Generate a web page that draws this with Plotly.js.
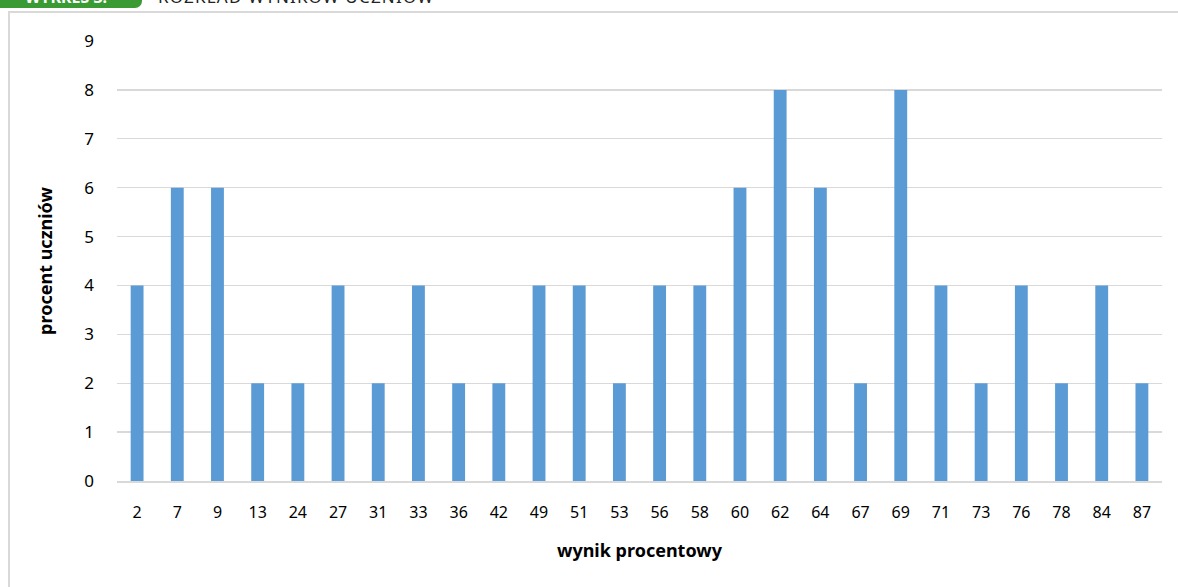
<!DOCTYPE html>
<html><head><meta charset="utf-8">
<script src="https://cdn.plot.ly/plotly-3.0.1.min.js"></script>
<style>
html,body{margin:0;padding:0;background:#fff;overflow:hidden;}
#wrap{position:relative;width:1178px;height:587px;}
#frame{position:absolute;left:8px;top:11px;width:1200px;height:620px;border:2px solid #D9D9D9;box-sizing:border-box;}
#badge{position:absolute;left:-10px;top:-14px;width:152px;height:22px;background:#3A9B35;border-radius:7px;color:#fff;font:bold 16px "Noto Sans";line-height:22px;text-align:center;}
#head{position:absolute;left:158px;top:-13px;font:17px "Noto Sans";color:#222;line-height:20px;letter-spacing:1.2px;}
#chart{position:absolute;left:0;top:0;width:1178px;height:587px;}
</style></head>
<body><div id="wrap">
<div id="frame"></div>
<div id="badge">WYKRES 3.</div>
<div id="head">ROZKŁAD WYNIKÓW UCZNIÓW</div>
<div id="chart"></div>
</div>
<script>
const categories = ["2","7","9","13","24","27","31","33","36","42","49","51","53","56","58","60","62","64","67","69","71","73","76","78","84","87"];
const values = [4,6,6,2,2,4,2,4,2,2,4,4,2,4,4,6,8,6,2,8,4,2,4,2,4,2];
const yTicks = [0,1,2,3,4,5,6,7,8,9];

Plotly.newPlot('chart', [{
  type:'bar', x:categories, y:values,
  marker:{color:'#5B9BD5'}, hoverinfo:'skip'
}], {
  width:1178, height:587,
  margin:{l:117, r:16, t:41, b:106},
  paper_bgcolor:'rgba(0,0,0,0)', plot_bgcolor:'rgba(0,0,0,0)',
  bargap:0.68, showlegend:false,
  font:{family:'"Noto Sans", sans-serif', size:16, color:'#000'},
  xaxis:{type:'category', tickvals:categories, ticktext:categories, showgrid:false,
    showline:true, linecolor:'#D9D9D9', linewidth:2, ticks:'', ticklen:0,
    tickfont:{size:16}, ticklabelstandoff:16, automargin:false,
    title:{text:'wynik procentowy', font:{size:18, weight:'bold'}, standoff:22}},
  yaxis:{range:[0,9], tickvals:yTicks, showgrid:true, gridcolor:'#D9D9D9', gridwidth:1.3,
    zeroline:false, showline:false, ticks:'', tickfont:{size:17}, ticklabelstandoff:22, automargin:false,
    title:{text:'procent uczniów', font:{size:18, weight:'bold'}, standoff:26}}
}, {staticPlot:true});
</script></body></html>
